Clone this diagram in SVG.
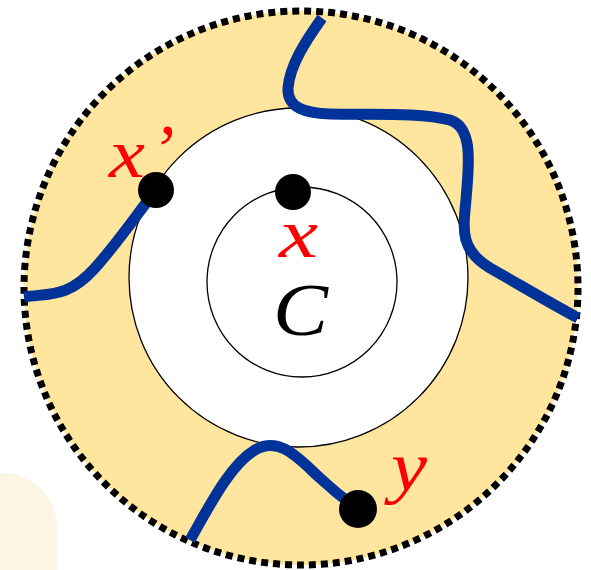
<svg xmlns="http://www.w3.org/2000/svg" width="591" height="570" viewBox="0 0 591 570">
<style>
.lbl{font-family:"Liberation Serif","DejaVu Serif",serif;font-style:italic;font-size:70px;fill:#ff0000}
.blue{fill:none;stroke:#003399;stroke-width:11;stroke-linecap:butt;stroke-linejoin:round}
.dot{fill:#000}
</style>
<rect x="-60" y="473" width="117" height="160" rx="55" fill="#fdf5e3"/>
<g id="outer"><circle cx="301" cy="288" r="277" fill="#ffe59e" stroke="#000" stroke-width="7" stroke-dasharray="7 5"/></g>
<g id="inner"><circle cx="298.5" cy="277.5" r="169.5" fill="#fff" stroke="#000" stroke-width="1.3"/></g>
<g id="core"><circle cx="302" cy="282" r="95" fill="none" stroke="#000" stroke-width="1.3"/></g>
<g id="connectors">
<path class="blue" d="M322,18 C305,42 290,65 288,88 C287,108 305,113 330,114 C370,115 420,112 450,120 C475,128 468,170 466,200 C463,230 460,250 490,268 C520,285 550,303 578,318"/>
<path class="blue" d="M24,297 C50,293 68,298 95,268 C120,240 140,210 156,190"/>
<path class="blue" d="M190,540 C210,505 230,465 255,450 C280,435 300,460 320,478 C335,492 348,502 358,509"/>
</g>
<g id="xp"><circle class="dot" cx="156" cy="190" r="18"/><text class="lbl" x="109" y="177" textLength="36" lengthAdjust="spacingAndGlyphs">x</text><text class="lbl" x="151" y="173">’</text></g>
<g id="x"><circle class="dot" cx="293" cy="192" r="18"/><text class="lbl" x="279" y="257" textLength="39" lengthAdjust="spacingAndGlyphs">x</text></g>
<g id="c"><text class="lbl" x="273" y="335" textLength="55" lengthAdjust="spacingAndGlyphs" style="fill:#000;font-size:74px">C</text></g>
<g id="y"><circle class="dot" cx="358" cy="509" r="19"/><text class="lbl" x="391" y="490" textLength="36" lengthAdjust="spacingAndGlyphs">y</text></g>
</svg>
